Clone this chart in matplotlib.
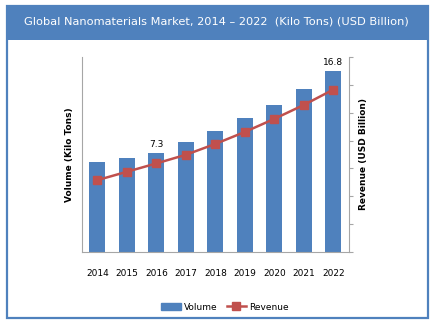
import matplotlib.pyplot as plt
from matplotlib.patches import Rectangle
import numpy as np

years = ['2014', '2015', '2016', '2017', '2018', '2019', '2020', '2021', '2022']
volume = [8.4, 8.7, 9.2, 10.2, 11.2, 12.4, 13.6, 15.1, 16.8]
revenue = [2.58, 2.88, 3.18, 3.49, 3.88, 4.31, 4.78, 5.28, 5.83]
label_idx = [2, 8]
label_txt = ['7.3', '16.8']

blue = '#4F81BD'
red = '#C0504D'
grey = '#A6A6A6'
font = 'DejaVu Sans'

fig = plt.figure(figsize=(4.37, 3.27), dpi=100)

# frame + header band
fig.patches.append(Rectangle((6.5 / 437, 1 - 317.5 / 327), 421 / 437, 312 / 327,
                             transform=fig.transFigure, fill=False,
                             edgecolor=blue, linewidth=1.6))
fig.patches.append(Rectangle((6.5 / 437, 1 - 40 / 327), 421 / 437, 35 / 327,
                             transform=fig.transFigure, facecolor=blue,
                             edgecolor=blue, linewidth=0))
fig.text(216 / 437, 1 - 22 / 327,
         'Global Nanomaterials Market, 2014 \u2013 2022  (Kilo Tons) (USD Billion)',
         color='white', fontsize=8.2, ha='center', va='center', family=font)

ax = fig.add_axes([82 / 437, 75 / 327, 267 / 437, 195 / 327])
x = np.arange(len(years))
ax.bar(x, volume, width=0.55, color=blue, edgecolor='none', zorder=2)
ax.set_xlim(-0.52, 8.53)
ax.set_ylim(0, 18.1)
ax.set_xticks(x)
ax.set_xticklabels(years, fontsize=6.5, family=font)
ax.tick_params(axis='x', length=0, pad=12)
ax.set_yticks([])
for s in ['top', 'right']:
    ax.spines[s].set_visible(False)
for s in ['left', 'bottom']:
    ax.spines[s].set_color(grey)
    ax.spines[s].set_linewidth(0.8)
ax.set_ylabel('Volume (Kilo Tons)', fontsize=6.5, fontweight='bold', labelpad=6)

for i, t in zip(label_idx, label_txt):
    ax.text(x[i], volume[i] + 0.35, t, ha='center', va='bottom', fontsize=6.5,
            family=font)

ax2 = ax.twinx()
ax2.plot(x, revenue, color=red, linewidth=1.8, marker='s', markersize=5.5,
         zorder=3)
ax2.set_ylim(0, 7)
ax2.set_yticks(np.arange(0, 8, 1))
ax2.set_yticklabels([])
ax2.tick_params(axis='y', length=3, color=grey, direction='out')
for s in ['top', 'left', 'bottom']:
    ax2.spines[s].set_visible(False)
ax2.spines['right'].set_color(grey)
ax2.spines['right'].set_linewidth(0.8)
ax2.set_ylabel('Revenue (USD Billion)', fontsize=6.5, fontweight='bold', labelpad=1)

# legend
h1 = plt.Rectangle((0, 0), 1, 1, color=blue)
h2, = ax2.plot([], [], color=red, linewidth=1.8, marker='s', markersize=5.5)
fig.legend([h1, h2], ['Volume', 'Revenue'], loc='center',
           bbox_to_anchor=(225 / 437, 1 - 307 / 327), ncol=2, frameon=False,
           prop={'family': font, 'size': 6.5}, handlelength=2.2,
           handletextpad=0.3, columnspacing=1.0)

fig.savefig('out.png', dpi=100)
